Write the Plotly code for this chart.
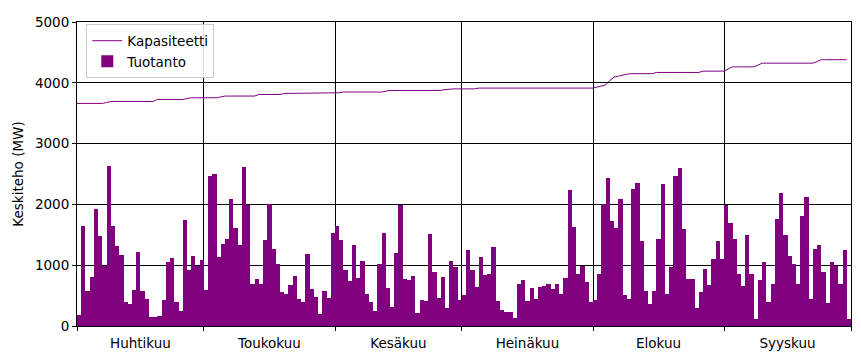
import pandas as pd
import plotly.graph_objects as go

# Daily dates (1 Apr - 30 Sep)
dates = pd.date_range("2022-04-01", "2022-09-30", freq="D")

# Daily production (MW, daily mean)
tuotanto_apr = [180, 1640, 574, 809, 1918, 1475, 995, 2639, 1640, 1311,
                1164, 399, 366, 590, 1213, 574, 443, 142, 142, 158,
                426, 1060, 1115, 393, 251, 1738, 918, 1148, 995, 1093]
tuotanto_may = [590, 2459, 2492, 1137, 1355, 1437, 2093, 1617, 1328, 2623,
                1995, 699, 765, 699, 1410, 2011, 1273, 1027, 552, 525,
                672, 820, 437, 393, 1191, 601, 470, 197, 574, 454, 1536]
tuotanto_jun = [1640, 1421, 918, 738, 1328, 792, 1066, 525, 388, 246,
                1016, 1536, 623, 311, 1208, 1995, 765, 754, 820, 213,
                421, 404, 1508, 885, 459, 803, 295, 1066, 973, 426]
tuotanto_jul = [508, 1246, 929, 645, 1137, 836, 852, 1295, 410, 262,
                230, 230, 131, 699, 754, 410, 617, 443, 634, 661,
                689, 601, 699, 530, 787, 2230, 1623, 863, 995, 716, 390]
tuotanto_aug = [420, 863, 2011, 2437, 1721, 1612, 2082, 514, 443, 2257,
                2350, 1393, 574, 366, 574, 1426, 2328, 525, 973, 2459,
                2601, 1601, 781, 781, 290, 552, 934, 672, 1098, 1393, 1098]
tuotanto_sep = [1995, 1699, 1426, 852, 661, 1492, 863, 115, 754, 1060,
                393, 689, 1754, 2180, 1503, 1148, 1016, 699, 1814, 2126,
                443, 1262, 1339, 885, 377, 1060, 995, 689, 1246, 115]
tuotanto = (tuotanto_apr + tuotanto_may + tuotanto_jun +
            tuotanto_jul + tuotanto_aug + tuotanto_sep)

# Installed capacity (MW)
kapasiteetti = (
    [3661] * 7 + [3675] + [3693] * 11 + [3726] * 7 + [3740] + [3754] * 7 + [3768]
    + [3782] * 8 + [3808] * 6 + [3825] * 13 + [3836] + [3848] * 10 + [3861]
    + [3874] * 13 + [3888] + [3900] * 7 + [3913] * 28
    + [3930, 3950, 3965, 4040, 4095, 4110, 4130, 4140] + [4150] * 6
    + [4170] * 11 + [4192] * 6 + [4230] + [4262] * 6 + [4290]
    + [4323] * 13 + [4350] + [4380] * 7
)

month_starts = ["2022-04-01", "2022-05-01", "2022-06-01", "2022-07-01",
                "2022-08-01", "2022-09-01", "2022-10-01"]
month_mids = ["2022-04-16", "2022-05-16 12:00", "2022-06-16", "2022-07-16 12:00",
              "2022-08-16 12:00", "2022-09-16"]
month_labels = ["Huhtikuu", "Toukokuu", "Kesäkuu", "Heinäkuu", "Elokuu", "Syyskuu"]

purple = "#800080"
bar_x = dates + pd.Timedelta(hours=12)

fig = go.Figure()
fig.add_trace(go.Bar(
    x=bar_x, y=tuotanto, name="Tuotanto",
    width=86400000, marker=dict(color=purple, line=dict(width=0)),
    legendrank=2,
))
fig.add_trace(go.Scatter(
    x=dates, y=kapasiteetti, name="Kapasiteetti", mode="lines",
    line=dict(color=purple, width=1), legendrank=1,
))

# page body adds an offset, margins compensate for it
fig.update_layout(
    width=861, height=357,
    margin=dict(l=69, r=18, t=14, b=39, autoexpand=False),
    paper_bgcolor="white", plot_bgcolor="white",
    font=dict(family="DejaVu Sans", size=13, color="black"),
    bargap=0,
    showlegend=True,
    legend=dict(
        x=0.012, y=0.992, xanchor="left", yanchor="top",
        bordercolor="#cccccc", borderwidth=1, bgcolor="rgba(255,255,255,0.85)",
        font=dict(size=13.5), tracegroupgap=0,
    ),
)
fig.update_xaxes(
    type="date", range=["2022-04-01", "2022-10-01"], automargin=False,
    tickmode="array", tickvals=month_mids, ticktext=month_labels,
    ticks="outside", ticklen=5, tickcolor="rgba(0,0,0,0)", showgrid=False,
    showline=True, linecolor="black", linewidth=1, mirror=True,
    minor=dict(tickmode="array", tickvals=month_starts, showgrid=True,
               gridcolor="black", gridwidth=0.6, ticks="outside",
               ticklen=4, tickcolor="black"),
    tickfont=dict(size=13.5),
)
fig.update_yaxes(
    range=[0, 5000], automargin=False,
    tickmode="array", tickvals=[0, 1000, 2000, 3000, 4000, 5000],
    showgrid=True, gridcolor="black", gridwidth=0.6,
    ticks="outside", ticklen=4, tickcolor="black",
    showline=True, linecolor="black", linewidth=1, mirror=True,
    zeroline=False,
    title=dict(text="Keskiteho (MW)", font=dict(size=13.5), standoff=8),
    tickfont=dict(size=13.5),
)

fig.write_html("out.html")
